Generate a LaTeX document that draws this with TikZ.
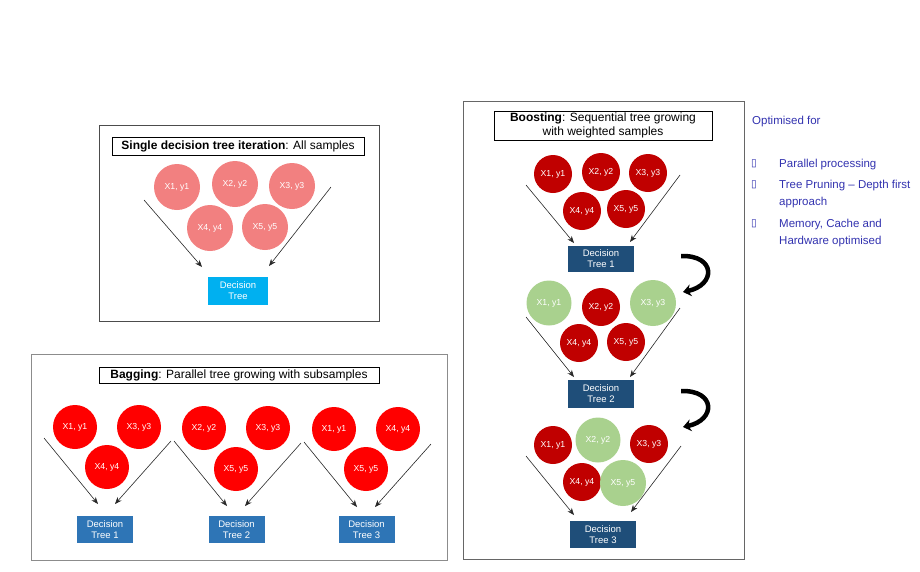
\documentclass[tikz,border=0pt]{standalone}
\usepackage{fontspec}
\setmainfont{Liberation Sans}
\newfontfamily\bulletfont{DejaVu Sans}
\usepackage{xcolor}
\usepackage{tikz}
\usetikzlibrary{arrows.meta}

\definecolor{salmon}{RGB}{242,128,128}
\definecolor{brightred}{RGB}{255,0,0}
\definecolor{darkred}{RGB}{192,0,0}
\definecolor{lightgreen}{RGB}{169,209,142}
\definecolor{cyanblue}{RGB}{0,176,240}
\definecolor{steelblue}{RGB}{46,117,182}
\definecolor{navyblue}{RGB}{31,78,121}
\definecolor{optblue}{RGB}{50,50,175}

\tikzset{
  panel/.style={draw=black!70, line width=0.7pt},
  titlebox/.style={draw, line width=0.7pt, fill=white, inner sep=0pt, align=center,
                   font=\fontsize{12}{14}\selectfont},
  sample/.style={circle, inner sep=0pt, text=white, font=\fontsize{8.7}{10}\selectfont},
  treebox/.style={rectangle, inner sep=0pt, text=white, align=center,
                  font=\fontsize{9.5}{11}\selectfont},
  optext/.style={anchor=west, inner sep=0pt, text=optblue, align=left,
                 font=\fontsize{11.5}{17}\selectfont},
  feed/.style={->, line width=0.6pt, black!85},
}

\begin{document}
\begin{tikzpicture}[x=1pt,y=-1pt,>={Stealth[length=7pt,width=5.5pt]}]
    \useasboundingbox (0,0) rectangle (920,571);

    % Arbre unique : tous les echantillons
    \draw[panel] (99,125) rectangle (379,321);
    \node (singleTitle) [titlebox, minimum width=252, minimum height=18] at (238,146.5)
                        {\textbf{Single decision tree iteration}: All samples};
    \node (sA1) [sample, fill=salmon, minimum size=46] at (177,187) {X1, y1};
    \node (sA2) [sample, fill=salmon, minimum size=46] at (235,184) {X2, y2};
    \node (sA3) [sample, fill=salmon, minimum size=46] at (292,186) {X3, y3};
    \node (sA4) [sample, fill=salmon, minimum size=46] at (210,228) {X4, y4};
    \node (sA5) [sample, fill=salmon, minimum size=46] at (265,227) {X5, y5};
    \node (singleTree) [treebox, fill=cyanblue, minimum width=60, minimum height=28] at (238,291)
                       {Decision\\Tree};
    \coordinate (sL0) at (144,200); \coordinate (sL1) at (202,267);
    \coordinate (sR0) at (331,187); \coordinate (sR1) at (269,266);
    \draw[feed] (sL0) -- (sL1);
    \draw[feed] (sR0) -- (sR1);

    % Bagging : arbres en parallele
    \draw[panel, draw=black!45] (31,354) rectangle (447,560);
    \node (bagTitle) [titlebox, minimum width=280, minimum height=16] at (239,375)
                     {\textbf{Bagging}: Parallel tree growing with subsamples};
    \node (bA1) [sample, fill=brightred, minimum size=44] at (75,427)  {X1, y1};
    \node (bA3) [sample, fill=brightred, minimum size=44] at (139,427) {X3, y3};
    \node (bA4) [sample, fill=brightred, minimum size=44] at (107,467) {X4, y4};
    \node (bB2) [sample, fill=brightred, minimum size=44] at (204,428) {X2, y2};
    \node (bB3) [sample, fill=brightred, minimum size=44] at (268,428) {X3, y3};
    \node (bB5) [sample, fill=brightred, minimum size=44] at (236,469) {X5, y5};
    \node (bC1) [sample, fill=brightred, minimum size=44] at (334,429) {X1, y1};
    \node (bC4) [sample, fill=brightred, minimum size=44] at (398,429) {X4, y4};
    \node (bC5) [sample, fill=brightred, minimum size=44] at (366,469) {X5, y5};
    \node (bagTree1) [treebox, fill=steelblue, minimum width=56, minimum height=27] at (105,529.5)
                     {Decision\\Tree 1};
    \node (bagTree2) [treebox, fill=steelblue, minimum width=56, minimum height=27] at (236.5,529.5)
                     {Decision\\Tree 2};
    \node (bagTree3) [treebox, fill=steelblue, minimum width=56, minimum height=27] at (366.5,529.5)
                     {Decision\\Tree 3};
    \coordinate (bAL0) at (44,438);  \coordinate (bAL1) at (98,504);
    \coordinate (bAR0) at (171,441); \coordinate (bAR1) at (115,504);
    \coordinate (bBL0) at (174,441); \coordinate (bBL1) at (227,506);
    \coordinate (bBR0) at (301,443); \coordinate (bBR1) at (245,506);
    \coordinate (bCL0) at (304,442); \coordinate (bCL1) at (357,507);
    \coordinate (bCR0) at (431,444); \coordinate (bCR1) at (375,507);
    \draw[feed] (bAL0) -- (bAL1);
    \draw[feed] (bAR0) -- (bAR1);
    \draw[feed] (bBL0) -- (bBL1);
    \draw[feed] (bBR0) -- (bBR1);
    \draw[feed] (bCL0) -- (bCL1);
    \draw[feed] (bCR0) -- (bCR1);

    % Boosting : arbres sequentiels, echantillons ponderes
    \draw[panel, draw=black!60] (463,101) rectangle (744,559);
    \node (boostTitle) [titlebox, minimum width=218, minimum height=29] at (603,125.5)
                       {\textbf{Boosting}: Sequential tree growing\\with weighted samples};
    % etape 1
    \node (tA1) [sample, fill=darkred, minimum size=38] at (553,174) {X1, y1};
    \node (tA2) [sample, fill=darkred, minimum size=38] at (601,172) {X2, y2};
    \node (tA3) [sample, fill=darkred, minimum size=38] at (648,173) {X3, y3};
    \node (tA4) [sample, fill=darkred, minimum size=38] at (582,211) {X4, y4};
    \node (tA5) [sample, fill=darkred, minimum size=38] at (626,209) {X5, y5};
    \node (boostTree1) [treebox, fill=navyblue, minimum width=66, minimum height=26] at (601,259)
                       {Decision\\Tree 1};
    % etape 2
    \node (tB1) [sample, fill=lightgreen, minimum size=45] at (549,303) {X1, y1};
    \node (tB2) [sample, fill=darkred, minimum size=38] at (601,307) {X2, y2};
    \node (tB3) [sample, fill=lightgreen, minimum size=46] at (653,303) {X3, y3};
    \node (tB4) [sample, fill=darkred, minimum size=38] at (579,343) {X4, y4};
    \node (tB5) [sample, fill=darkred, minimum size=38] at (626,342) {X5, y5};
    \node (boostTree2) [treebox, fill=navyblue, minimum width=66, minimum height=28] at (601,394)
                       {Decision\\Tree 2};
    % etape 3
    \node (tC1) [sample, fill=darkred, minimum size=38] at (553,445) {X1, y1};
    \node (tC2) [sample, fill=lightgreen, minimum size=45] at (598,440) {X2, y2};
    \node (tC3) [sample, fill=darkred, minimum size=38] at (649,444) {X3, y3};
    \node (tC4) [sample, fill=darkred, minimum size=38] at (582,482) {X4, y4};
    \node (tC5) [sample, fill=lightgreen, minimum size=46] at (623,483) {X5, y5};
    \node (boostTree3) [treebox, fill=navyblue, minimum width=66, minimum height=27] at (603,534.5)
                       {Decision\\Tree 3};
    % fleches
    \coordinate (tAL0) at (526,185); \coordinate (tAL1) at (574,243);
    \coordinate (tAR0) at (680,175); \coordinate (tAR1) at (630,242);
    \coordinate (tBL0) at (526,317); \coordinate (tBL1) at (574,377);
    \coordinate (tBR0) at (680,308); \coordinate (tBR1) at (630,377);
    \coordinate (tCL0) at (526,456); \coordinate (tCL1) at (574,515);
    \coordinate (tCR0) at (681,446); \coordinate (tCR1) at (631,512);
    \draw[feed] (tAL0) -- (tAL1);
    \draw[feed] (tAR0) -- (tAR1);
    \draw[feed] (tBL0) -- (tBL1);
    \draw[feed] (tBR0) -- (tBR1);
    \draw[feed] (tCL0) -- (tCL1);
    \draw[feed] (tCR0) -- (tCR1);
    % fleches courbes entre les etapes
    \coordinate (turnA0) at (681,256); \coordinate (turnA1) at (683,292);
    \coordinate (turnB0) at (681,391); \coordinate (turnB1) at (683,427);
    \draw[line width=4.5pt, -{Stealth[length=8pt, width=12pt]}]
        (turnA0) .. controls (716,255) and (716,285) .. (turnA1);
    \draw[line width=4.5pt, -{Stealth[length=8pt, width=12pt]}]
        (turnB0) .. controls (716,390) and (716,420) .. (turnB1);

    % Optimise pour
    \node (optTitle) [optext] at (752,122) {Optimised for};
    \node (bul1) [optext, font=\bulletfont\fontsize{10.5}{12}\selectfont] at (751,164) {▯};
    \node (bul2) [optext, font=\bulletfont\fontsize{10.5}{12}\selectfont] at (751,185) {▯};
    \node (bul3) [optext, font=\bulletfont\fontsize{10.5}{12}\selectfont] at (751,224) {▯};
    \node (opt1) [optext] at (779,165)   {Parallel processing};
    \node (opt2) [optext] at (779,194.5) {Tree Pruning – Depth first\\approach};
    \node (opt3) [optext] at (779,233.5) {Memory, Cache and\\Hardware optimised};
\end{tikzpicture}
\end{document}
